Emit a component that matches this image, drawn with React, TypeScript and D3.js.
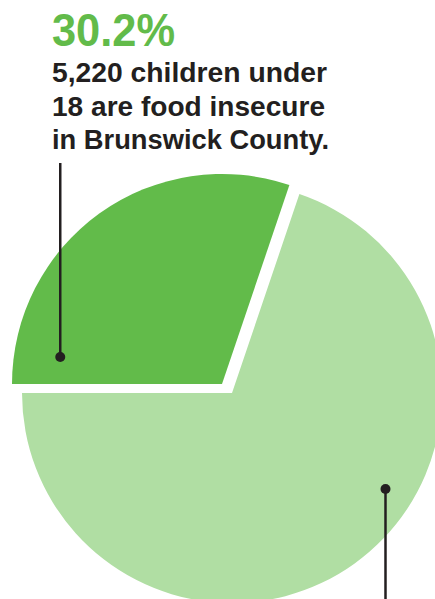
import React from "react";
import * as d3 from "d3";

const categories = ["Food insecure children", "Other children"];
const values = [30.2, 69.8];
const headline = "30.2%";
const captionLines = ["5,220 children under", "18 are food insecure", "in Brunswick County."];
const captionWidths = [275, 273, 277];

const W = 435;
const H = 599;
const DEG = Math.PI / 180;

export default function App() {
  const cx = 232;
  const cy = 393;
  const r = 210;
  const pie = d3
    .pie<number>()
    .sort(null)
    .startAngle(-90 * DEG)
    .endAngle(270 * DEG);
  const arcs = pie(values);
  const arcGen = d3.arc<d3.PieArcDatum<number>>().innerRadius(0).outerRadius(r);
  const colors = ["#62bb4a", "#b0dea3"];
  const offsets = [
    [-10, -9],
    [0, 0],
  ];

  // annotation anchor points (polar, relative to slice apex)
  const ann = [
    { a: -80.5 * DEG, d: 164 },
    { a: 122 * DEG, d: 181 },
  ];
  const pts = ann.map((p, i) => {
    const ox = cx + offsets[i][0];
    const oy = cy + offsets[i][1];
    return [ox + Math.sin(p.a) * p.d, oy - Math.cos(p.a) * p.d];
  });

  return (
    <div style={{ position: "absolute", left: 0, top: 0 }}>
      <svg width={W} height={H} style={{ display: "block" }}>
        <rect width={W} height={H} fill="#fff" />
        {arcs.map((a, i) => (
          <path
            key={categories[i]}
            d={arcGen(a) || ""}
            fill={colors[i]}
            transform={`translate(${cx + offsets[i][0]},${cy + offsets[i][1]})`}
          />
        ))}
        <text
          x={52}
          y={46}
          fill="#62bb4a"
          fontFamily="'Liberation Sans', Arial, sans-serif"
          fontWeight={700}
          fontSize={46}
          textLength={123}
          lengthAdjust="spacingAndGlyphs"
        >
          {headline}
        </text>
        {captionLines.map((l, i) => (
          <text
            key={i}
            x={52}
            y={82 + i * 33.5}
            fill="#231f20"
            fontFamily="'Liberation Sans', Arial, sans-serif"
            fontWeight={700}
            fontSize={28}
            textLength={captionWidths[i]}
            lengthAdjust="spacingAndGlyphs"
          >
            {l}
          </text>
        ))}
        <line x1={pts[0][0]} x2={pts[0][0]} y1={163} y2={pts[0][1]} stroke="#231f20" strokeWidth={2.5} />
        <circle cx={pts[0][0]} cy={pts[0][1]} r={5} fill="#231f20" />
        <line x1={pts[1][0]} x2={pts[1][0]} y1={pts[1][1]} y2={H} stroke="#231f20" strokeWidth={2.5} />
        <circle cx={pts[1][0]} cy={pts[1][1]} r={5} fill="#231f20" />
      </svg>
    </div>
  );
}
